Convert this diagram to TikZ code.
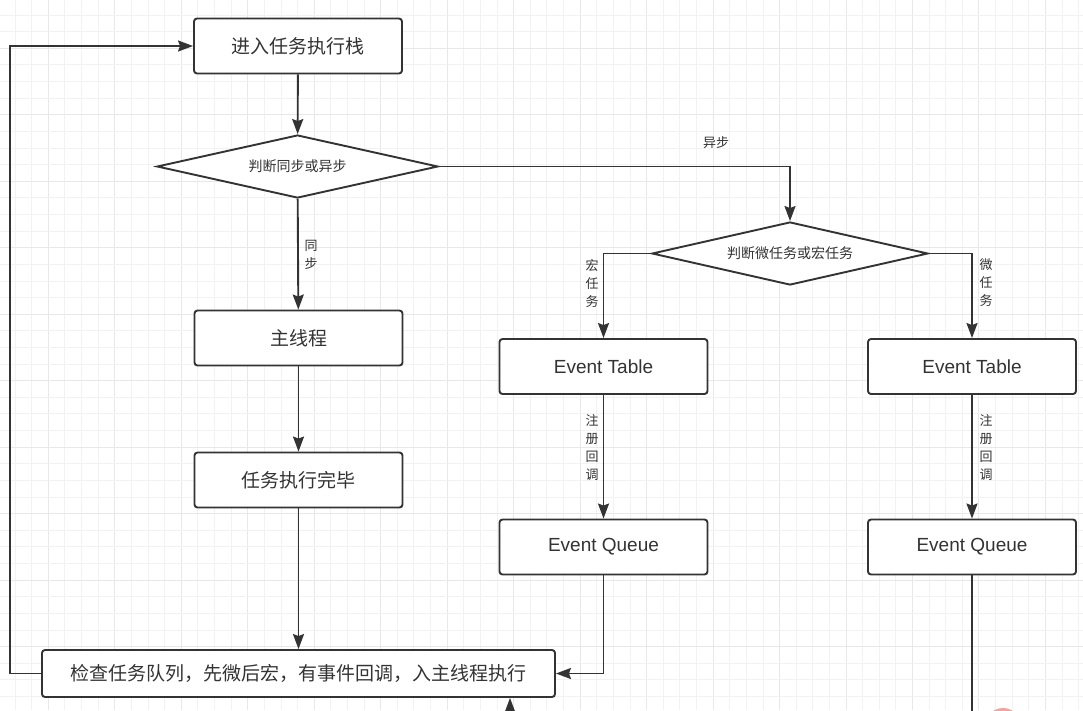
\documentclass[tikz,border=0pt]{standalone}
\usepackage{fontspec}
\setmainfont{Liberation Sans}
\newfontfamily\cjk{Noto Sans CJK SC}
\usetikzlibrary{arrows.meta,shapes.geometric}
\definecolor{linec}{HTML}{333333}
\definecolor{txt}{HTML}{333333}
\definecolor{gminor}{HTML}{F2F2F2}
\definecolor{gmajor}{HTML}{E8E8E8}
\definecolor{dotpink}{HTML}{F4A3A3}
\tikzset{
  box/.style={draw=linec, line width=1.9pt, rounded corners=3pt, fill=white,
    minimum width=208pt, minimum height=55pt, inner sep=0pt, text=txt,
    font=\cjk\fontsize{19}{22}\selectfont},
  evt/.style={font=\fontsize{19}{22}\selectfont},
  dia/.style={draw=linec, line width=1.9pt, diamond, aspect=4.5, fill=white, inner sep=0pt,
    text=txt, font=\cjk\fontsize{14}{16}\selectfont},
  arr/.style={draw=linec, line width=1.9pt, -{Stealth[length=15pt,width=11pt,inset=2pt]}},
  plain/.style={draw=linec, line width=1.9pt},
  lbl/.style={text=txt, font=\cjk\fontsize{13}{18}\selectfont, align=center, inner sep=0pt},
}
\begin{document}
\begin{tikzpicture}[x=1pt,y=-1pt]
\useasboundingbox (0,0) rectangle (1083,710);
\begin{scope}
\clip (0,0) rectangle (1083,710);
\fill[white] (0,0) rectangle (1083,710);
\foreach \i in {0,...,65} {
  \pgfmathtruncatemacro{\m}{mod(\i,4)}
  \ifnum\m=2
    \draw[gmajor, line width=1pt] ({15+\i*16.62},0) -- ({15+\i*16.62},710);
  \else
    \draw[gminor, line width=0.8pt] ({15+\i*16.62},0) -- ({15+\i*16.62},710);
  \fi
}
\foreach \i in {0,...,43} {
  \pgfmathtruncatemacro{\m}{mod(\i,4)}
  \ifnum\m=2
    \draw[gmajor, line width=1pt] (0,{15+\i*16.62}) -- (1083,{15+\i*16.62});
  \else
    \draw[gminor, line width=0.8pt] (0,{15+\i*16.62}) -- (1083,{15+\i*16.62});
  \fi
}
\fill[dotpink] (1003,726) circle (18);
\end{scope}

\node[box] (enter) at (298,46) {进入任务执行栈};
\node[dia, minimum width=281pt, minimum height=63pt] (d1) at (297.5,166.5) {判断同步或异步};
\node[dia, minimum width=276pt, minimum height=63pt] (d2) at (790,253.5) {判断微任务或宏任务};
\node[box] (main) at (298.5,338) {主线程};
\node[box] (done) at (298.5,480) {任务执行完毕};
\node[box,evt] (et1) at (603.5,366.5) {Event Table};
\node[box,evt] (et2) at (972,366.5) {Event Table};
\node[box,evt] (eq1) at (603.5,547) {Event Queue};
\node[box,evt] (eq2) at (972,547) {Event Queue};
\node[box, minimum width=513pt, minimum height=47pt] (chk) at (298.5,673.5) {检查任务队列，先微后宏，有事件回调，入主线程执行};

\coordinate (lp) at (10,673.5);
\coordinate (b1) at (510,712);
\coordinate (b2) at (972,712);

\draw[arr] (enter) -- (d1);
\draw[arr] (d1) -- (main);
\draw[arr] (main) -- (done);
\draw[arr] (done) -- (chk);
\draw[arr] (d1.east) -| (d2.north);
\draw[arr] (d2.west) -| (et1.north);
\draw[arr] (d2.east) -| (et2.north);
\draw[arr] (et1) -- (eq1);
\draw[arr] (et2) -- (eq2);
\draw[arr] (eq1.south) |- (chk.east);
\draw[arr] (chk.west) -- (lp) |- (enter.west);
\draw[arr] (b1) -- (chk.south -| b1);
\draw[plain] (eq2.south) -- (b2);

\node[lbl] (l1) at (716,143) {异步};
\node[lbl] (l2) at (311,255) {同\\步};
\node[lbl] (l3) at (592,283) {宏\\任\\务};
\node[lbl] (l4) at (986,283) {微\\任\\务};
\node[lbl] (l5) at (592,448) {注\\册\\回\\调};
\node[lbl] (l6) at (986,448) {注\\册\\回\\调};
\end{tikzpicture}
\end{document}
